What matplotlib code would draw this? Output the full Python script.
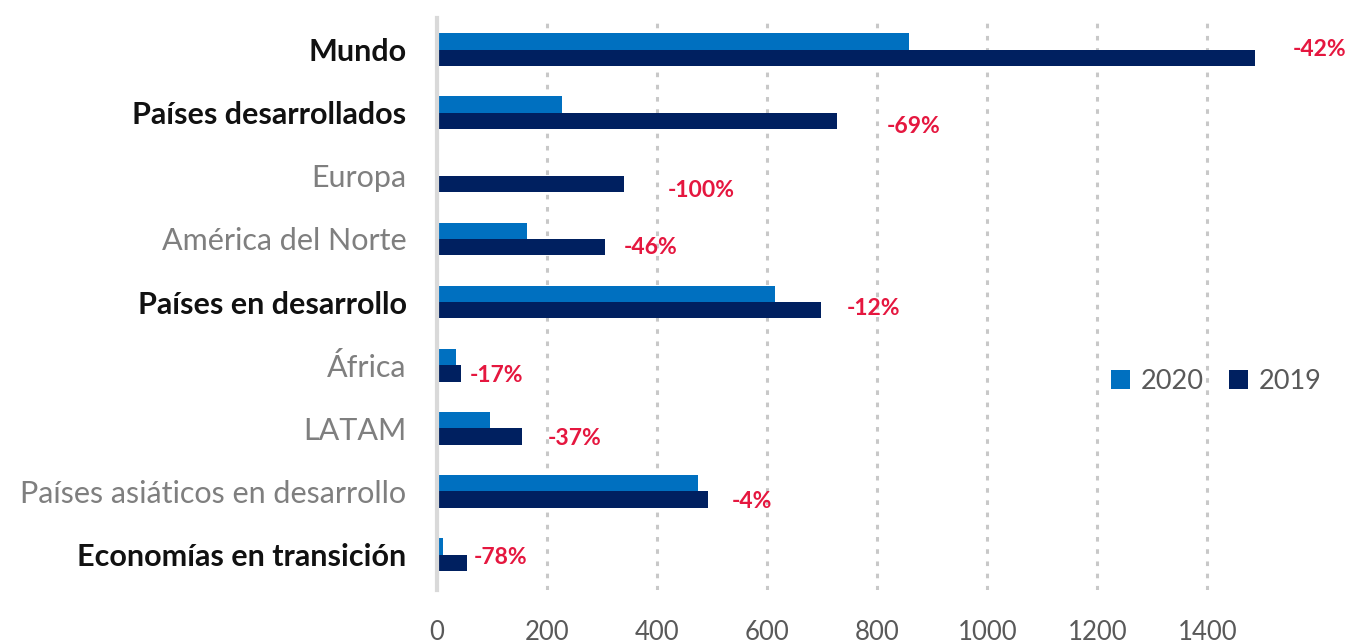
import matplotlib
matplotlib.use("Agg")
import matplotlib.pyplot as plt
import numpy as np

categories = ["Mundo", "Países desarrollados", "Europa", "América del Norte",
              "Países en desarrollo", "África", "LATAM",
              "Países asiáticos en desarrollo", "Economías en transición"]
bold = [True, True, False, False, True, False, False, False, True]
v2020 = [858, 227, 0, 163, 614, 35, 96, 475, 10]
v2019 = [1487, 727, 340, 306, 698, 43, 155, 492, 55]
pct_labels = ["-42%", "-69%", "-100%", "-46%", "-12%", "-17%", "-37%", "-4%", "-78%"]
pct_x = [1556, 818, 420, 340, 745, 60, 202, 535, 67]
pct_dy = [0.0, 0.22, 0.24, 0.13, 0.1, 0.16, 0.16, 0.16, 0.05]
xticks = [0, 200, 400, 600, 800, 1000, 1200, 1400]

c2020 = "#0070C0"
c2019 = "#002060"
cred = "#E5173F"

plt.rcParams['font.family'] = ['Lato', 'DejaVu Sans']

fig = plt.figure(figsize=(13.45, 6.44), dpi=100)
ax = fig.add_axes([0.325, 0.084, 0.638, 0.888])

y = np.arange(len(categories))
h = 0.26
ax.barh(y - h/2, v2020, height=h, color=c2020, label="2020", zorder=3)
ax.barh(y + h/2, v2019, height=h, color=c2019, label="2019", zorder=3)

for i, (lab, px, dy) in enumerate(zip(pct_labels, pct_x, pct_dy)):
    ax.text(px, y[i] + dy, lab, color=cred, fontsize=16.5, fontweight='bold',
            va='center', ha='left', clip_on=False)

ax.set_ylim(8.56, -0.5)
ax.set_xlim(0, 1560)
ax.set_yticks(y)
ax.set_yticklabels(categories)
for t, b in zip(ax.get_yticklabels(), bold):
    if b:
        t.set_fontweight('bold')
        t.set_color('#111111')
    else:
        t.set_color('#7F7F7F')
    t.set_fontsize(22)
ax.tick_params(axis='y', length=0, pad=22)
ax.set_xticks(xticks)
ax.set_xticklabels([str(v) for v in xticks], fontsize=18.5, color='#595959')
ax.tick_params(axis='x', length=0, pad=22)

ax.grid(axis='x', color='#C8C8C8', linestyle=(0, (1.5, 2.5)), linewidth=2.2, zorder=0)
for s in ['top', 'right', 'bottom']:
    ax.spines[s].set_visible(False)
ax.spines['left'].set_color('#D9D9D9')
ax.spines['left'].set_linewidth(3)
ax.spines['left'].set_zorder(4)

leg = ax.legend(loc='center left', bbox_to_anchor=(0.77, 0.364), ncol=2, frameon=False,
                fontsize=19.5, handlelength=0.7, handleheight=0.7, columnspacing=0.9,
                handletextpad=0.4, borderpad=0.0)
for t in leg.get_texts():
    t.set_color('#595959')

fig.savefig("out.png", dpi=100)
